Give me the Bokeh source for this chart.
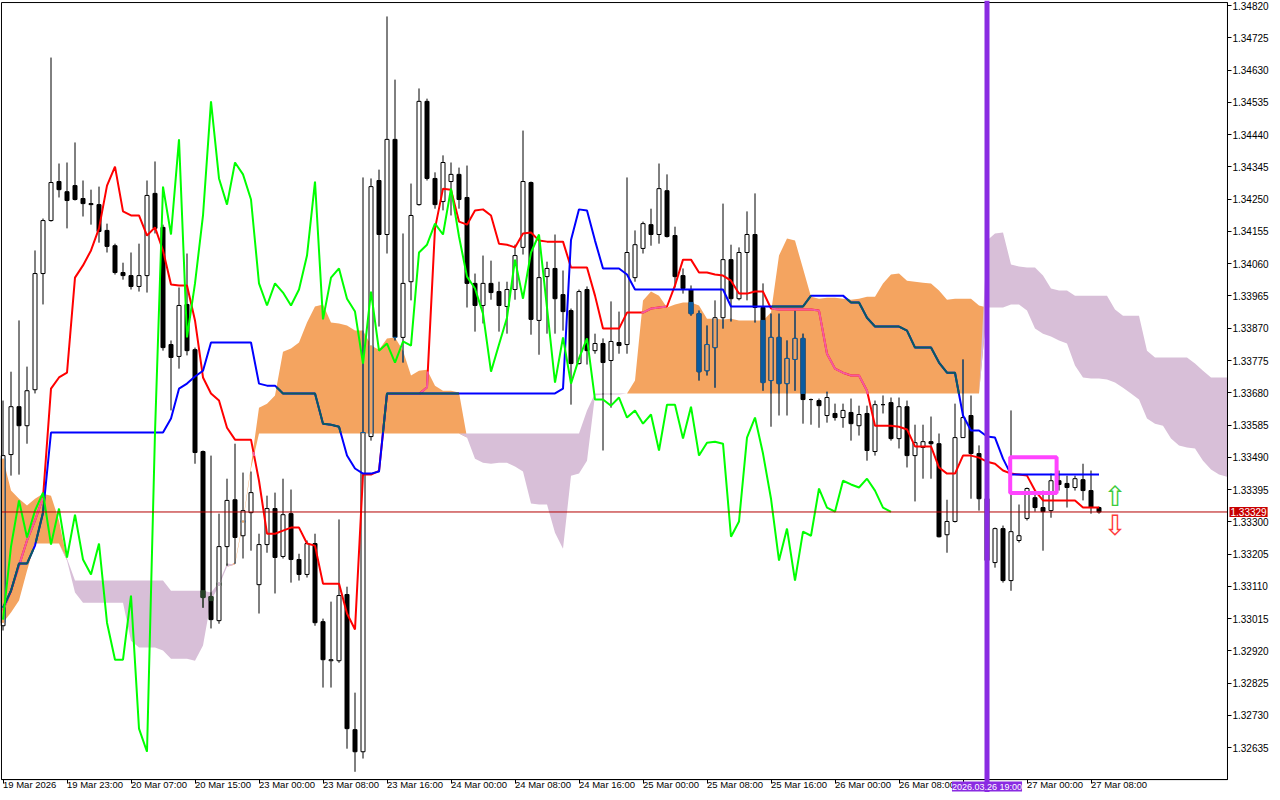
import numpy as np
from bokeh.plotting import figure
from bokeh.models import (Range1d, FixedTicker, PrintfTickFormatter, Span, Label,
                          BoxAnnotation, ColumnDataSource)
from bokeh.embed import file_html
from bokeh.resources import INLINE
from bokeh.core.properties import value

# ---------------- data (EURUSD-like H1, Ichimoku) ----------------
OPEN = [
1.32994, 1.33498, 1.33639, 1.33583, 1.33689, 1.34031, 1.34187, 1.34302, 1.34272, 1.34290,
1.34252, 1.34237, 1.34234, 1.34158, 1.34113, 1.34034, 1.34025, 1.33993, 1.34025, 1.34267,
1.34167, 1.33822, 1.33787, 1.33940, 1.33807, 1.33507, 1.33080, 1.33009, 1.33227, 1.33365,
1.33259, 1.33327, 1.33115, 1.33233, 1.33339, 1.33198, 1.33324, 1.33189, 1.33145, 1.33236,
1.33006, 1.32891, 1.32891, 1.33086, 1.32688, 1.32623, 1.33551, 1.34305, 1.34146, 1.34426,
1.33843, 1.34007, 1.34234, 1.34538, 1.34311, 1.34243, 1.34302, 1.34323, 1.34255, 1.34002,
1.33937, 1.34002, 1.33978, 1.33934, 1.33984, 1.34108, 1.34299, 1.33893, 1.34022, 1.34046,
1.33969, 1.33922, 1.33766, 1.33984, 1.33804, 1.33825, 1.33775, 1.33828, 1.33822, 1.34019,
1.34105, 1.34175, 1.34146, 1.34275, 1.34143, 1.34025, 1.33984, 1.33913, 1.33745, 1.33813,
1.33901, 1.34072, 1.33957, 1.34093, 1.34146, 1.33931, 1.33716, 1.33843, 1.33707, 1.33778,
1.33840, 1.33660, 1.33657, 1.33613, 1.33619, 1.33607, 1.33622, 1.33583, 1.33619, 1.33507,
1.33645, 1.33651, 1.33545, 1.33639, 1.33495, 1.33519, 1.33536, 1.33530, 1.33262, 1.33301,
1.33548, 1.33613, 1.33501, 1.33368, 1.33180, 1.33280, 1.33127, 1.33245, 1.33310, 1.33371,
1.33342, 1.33333, 1.33421, 1.33413, 1.33401, 1.33424, 1.33392, 1.33342]
HIGH = [
1.33657, 1.33742, 1.33893, 1.33757, 1.34099, 1.34193, 1.34667, 1.34355, 1.34358, 1.34417,
1.34305, 1.34278, 1.34287, 1.34178, 1.34119, 1.34063, 1.34093, 1.34119, 1.34305, 1.34361,
1.34175, 1.33834, 1.33990, 1.34090, 1.33813, 1.33510, 1.33495, 1.33324, 1.33427, 1.33530,
1.33445, 1.33448, 1.33265, 1.33377, 1.33386, 1.33427, 1.33395, 1.33206, 1.33245, 1.33265,
1.33015, 1.33065, 1.33307, 1.33109, 1.32797, 1.34314, 1.34311, 1.34337, 1.34788, 1.34602,
1.34149, 1.34296, 1.34576, 1.34546, 1.34329, 1.34379, 1.34358, 1.34343, 1.34349, 1.34031,
1.34084, 1.34069, 1.34007, 1.34007, 1.34116, 1.34452, 1.34302, 1.34143, 1.34066, 1.34146,
1.34040, 1.33928, 1.33984, 1.33993, 1.33854, 1.33840, 1.33949, 1.33919, 1.34314, 1.34158,
1.34184, 1.34222, 1.34355, 1.34323, 1.34169, 1.34046, 1.33996, 1.33922, 1.33878, 1.33952,
1.34237, 1.34116, 1.34108, 1.34214, 1.34267, 1.34002, 1.33913, 1.33913, 1.33834, 1.33922,
1.33854, 1.33663, 1.33663, 1.33683, 1.33648, 1.33648, 1.33663, 1.33642, 1.33642, 1.33657,
1.33672, 1.33666, 1.33666, 1.33657, 1.33586, 1.33586, 1.33610, 1.33560, 1.33365, 1.33648,
1.33778, 1.33672, 1.33525, 1.33392, 1.33283, 1.33289, 1.33628, 1.33351, 1.33401, 1.33392,
1.33392, 1.33442, 1.33451, 1.33436, 1.33436, 1.33471, 1.33451, 1.33345]
LOW = [
1.32980, 1.33436, 1.33439, 1.33530, 1.33678, 1.33940, 1.34184, 1.34255, 1.34164, 1.34246,
1.34199, 1.34175, 1.34122, 1.34093, 1.34028, 1.34013, 1.33984, 1.33978, 1.33975, 1.34149,
1.33804, 1.33628, 1.33751, 1.33790, 1.33471, 1.33047, 1.32986, 1.33000, 1.33171, 1.33177,
1.33192, 1.33215, 1.33030, 1.33209, 1.33089, 1.33192, 1.33121, 1.33127, 1.33136, 1.32994,
1.32812, 1.32812, 1.32885, 1.32632, 1.32564, 1.32603, 1.33539, 1.33875, 1.34090, 1.33834,
1.33769, 1.33952, 1.34231, 1.34305, 1.34222, 1.34217, 1.34202, 1.34222, 1.33931, 1.33860,
1.33884, 1.33954, 1.33860, 1.33854, 1.33954, 1.34087, 1.33851, 1.33792, 1.33854, 1.33854,
1.33863, 1.33645, 1.33763, 1.33763, 1.33795, 1.33510, 1.33636, 1.33795, 1.33795, 1.34007,
1.34090, 1.34113, 1.34119, 1.34137, 1.33990, 1.33972, 1.33907, 1.33716, 1.33731, 1.33695,
1.33869, 1.33890, 1.33952, 1.33952, 1.33887, 1.33686, 1.33580, 1.33613, 1.33613, 1.33686,
1.33589, 1.33586, 1.33577, 1.33592, 1.33598, 1.33577, 1.33539, 1.33554, 1.33480, 1.33495,
1.33619, 1.33539, 1.33516, 1.33460, 1.33360, 1.33427, 1.33427, 1.33254, 1.33209, 1.33298,
1.33548, 1.33368, 1.33333, 1.33156, 1.33165, 1.33121, 1.33097, 1.33239, 1.33304, 1.33330,
1.33215, 1.33312, 1.33392, 1.33342, 1.33392, 1.33363, 1.33324, 1.33324]
CLOSE = [
1.33495, 1.33639, 1.33583, 1.33686, 1.34031, 1.34187, 1.34299, 1.34278, 1.34246, 1.34249,
1.34237, 1.34234, 1.34155, 1.34111, 1.34034, 1.34025, 1.33993, 1.34025, 1.34261, 1.34164,
1.33813, 1.33784, 1.33937, 1.33804, 1.33504, 1.33077, 1.33012, 1.33227, 1.33363, 1.33254,
1.33333, 1.33386, 1.33233, 1.33339, 1.33195, 1.33321, 1.33189, 1.33145, 1.33236, 1.33003,
1.32894, 1.32894, 1.33083, 1.32691, 1.32623, 1.33563, 1.34287, 1.34146, 1.34426, 1.33843,
1.34002, 1.34202, 1.34538, 1.34311, 1.34234, 1.34358, 1.34323, 1.34249, 1.34002, 1.33937,
1.34002, 1.33975, 1.33937, 1.33984, 1.34084, 1.34302, 1.33896, 1.34019, 1.34046, 1.33957,
1.33919, 1.33766, 1.33978, 1.33804, 1.33825, 1.33769, 1.33831, 1.33819, 1.34093, 1.34116,
1.34178, 1.34146, 1.34281, 1.34140, 1.34022, 1.33987, 1.33913, 1.33742, 1.33822, 1.33901,
1.34072, 1.33957, 1.34093, 1.34146, 1.33931, 1.33710, 1.33843, 1.33707, 1.33781, 1.33840,
1.33660, 1.33660, 1.33642, 1.33666, 1.33607, 1.33628, 1.33589, 1.33616, 1.33510, 1.33645,
1.33645, 1.33545, 1.33639, 1.33495, 1.33533, 1.33536, 1.33530, 1.33256, 1.33301, 1.33548,
1.33607, 1.33501, 1.33368, 1.33186, 1.33280, 1.33127, 1.33271, 1.33259, 1.33398, 1.33342,
1.33330, 1.33421, 1.33410, 1.33401, 1.33427, 1.33392, 1.33342, 1.33329]

TENKAN = [
1.33039, 1.33097, 1.33171, 1.33245, 1.33304, 1.33371, 1.33692, 1.33725, 1.33739, 1.34019,
1.34055, 1.34099, 1.34164, 1.34290, 1.34346, 1.34214, 1.34202, 1.34202, 1.34143, 1.34167,
1.34099, 1.33999, 1.33996, 1.33996, 1.33893, 1.33725, 1.33678, 1.33657, 1.33577, 1.33542,
1.33542, 1.33542, 1.33421, 1.33265, 1.33265, 1.33274, 1.33283, 1.33283, 1.33236, 1.33230,
1.33118, 1.33118, 1.33118, 1.33030, 1.32983, 1.33439, 1.33439, 1.33450, 1.33676, 1.33676,
1.33676, 1.33676, 1.33676, 1.33696, 1.34164, 1.34281, 1.34278, 1.34184, 1.34175, 1.34217,
1.34220, 1.34202, 1.34119, 1.34116, 1.34108, 1.34149, 1.34152, 1.34128, 1.34125, 1.34125,
1.34125, 1.34049, 1.34049, 1.34049, 1.33966, 1.33869, 1.33869, 1.33869, 1.33916, 1.33916,
1.33916, 1.33928, 1.33931, 1.33934, 1.33996, 1.34072, 1.34072, 1.34034, 1.34034, 1.34028,
1.34025, 1.34010, 1.33972, 1.33972, 1.33978, 1.33978, 1.33928, 1.33925, 1.33925, 1.33925,
1.33925, 1.33925, 1.33922, 1.33795, 1.33751, 1.33739, 1.33731, 1.33731, 1.33686, 1.33583,
1.33583, 1.33583, 1.33580, 1.33572, 1.33522, 1.33522, 1.33522, 1.33460, 1.33442, 1.33442,
1.33495, 1.33495, 1.33489, 1.33477, 1.33471, 1.33451, 1.33442, 1.33439, 1.33436, 1.33392,
1.33363, 1.33363, 1.33363, 1.33363, 1.33363, 1.33342, 1.33342, 1.33342]
KIJUN = [
1.33047, 1.33097, 1.33177, 1.33177, 1.33230, 1.33327, 1.33563, 1.33563, 1.33563, 1.33563,
1.33563, 1.33563, 1.33563, 1.33563, 1.33563, 1.33563, 1.33563, 1.33563, 1.33563, 1.33563,
1.33563, 1.33604, 1.33692, 1.33707, 1.33728, 1.33745, 1.33828, 1.33828, 1.33828, 1.33828,
1.33828, 1.33828, 1.33707, 1.33701, 1.33701, 1.33678, 1.33678, 1.33678, 1.33678, 1.33678,
1.33589, 1.33586, 1.33580, 1.33495, 1.33457, 1.33442, 1.33442, 1.33448, 1.33678, 1.33678,
1.33678, 1.33678, 1.33678, 1.33678, 1.33678, 1.33678, 1.33678, 1.33678, 1.33678, 1.33678,
1.33678, 1.33678, 1.33678, 1.33678, 1.33678, 1.33678, 1.33678, 1.33678, 1.33678, 1.33678,
1.33692, 1.34130, 1.34220, 1.34217, 1.34128, 1.34046, 1.34046, 1.34046, 1.34028, 1.33984,
1.33984, 1.33984, 1.33984, 1.33984, 1.33984, 1.33984, 1.33984, 1.33984, 1.33984, 1.33984,
1.33984, 1.33934, 1.33934, 1.33934, 1.33934, 1.33934, 1.33934, 1.33934, 1.33934, 1.33934,
1.33934, 1.33966, 1.33966, 1.33966, 1.33966, 1.33966, 1.33946, 1.33946, 1.33901, 1.33875,
1.33875, 1.33875, 1.33875, 1.33863, 1.33813, 1.33813, 1.33813, 1.33769, 1.33739, 1.33739,
1.33613, 1.33569, 1.33569, 1.33551, 1.33548, 1.33486, 1.33439, 1.33439, 1.33439, 1.33439,
1.33439, 1.33439, 1.33439, 1.33439, 1.33439, 1.33439, 1.33439, 1.33439]
SPAN_A = [
1.33486, 1.33392, 1.33368, 1.33348, 1.33368, 1.33383, 1.33377, 1.33304, 1.33186, 1.33092,
1.33062, 1.33062, 1.33062, 1.33062, 1.33062, 1.33062, 1.32950, 1.32930, 1.32930, 1.32930,
1.32921, 1.32897, 1.32897, 1.32897, 1.32891, 1.32936, 1.33068, 1.33112, 1.33168, 1.33180,
1.33304, 1.33466, 1.33636, 1.33648, 1.33672, 1.33801, 1.33810, 1.33828, 1.33887, 1.33934,
1.33940, 1.33887, 1.33884, 1.33878, 1.33863, 1.33863, 1.33819, 1.33807, 1.33840, 1.33843,
1.33804, 1.33731, 1.33745, 1.33748, 1.33701, 1.33686, 1.33686, 1.33681, 1.33548, 1.33486,
1.33474, 1.33471, 1.33474, 1.33474, 1.33463, 1.33448, 1.33354, 1.33351, 1.33351, 1.33268,
1.33221, 1.33436, 1.33442, 1.33480, 1.33672, 1.33675, 1.33675, 1.33675, 1.33678, 1.33716,
1.33952, 1.33978, 1.33966, 1.33931, 1.33940, 1.33946, 1.33946, 1.33937, 1.33898, 1.33898,
1.33896, 1.33898, 1.33893, 1.33893, 1.33893, 1.33893, 1.33916, 1.34084, 1.34134, 1.34128,
1.34046, 1.33963, 1.33957, 1.33960, 1.33960, 1.33957, 1.33954, 1.33957, 1.33963, 1.33963,
1.34002, 1.34028, 1.34031, 1.34010, 1.34007, 1.34004, 1.34002, 1.33981, 1.33954, 1.33957,
1.33957, 1.33957, 1.33937, 1.33931, 1.33931, 1.33931, 1.33940, 1.33940, 1.33922, 1.33869,
1.33854, 1.33846, 1.33834, 1.33825, 1.33760, 1.33725, 1.33722, 1.33722, 1.33719, 1.33710,
1.33695, 1.33678, 1.33660, 1.33604, 1.33589, 1.33583, 1.33545, 1.33525, 1.33519, 1.33516,
1.33480, 1.33454, 1.33439, 1.33433]
SPAN_B = [
1.33003, 1.33033, 1.33068, 1.33156, 1.33236, 1.33236, 1.33236, 1.33236, 1.33192, 1.33127,
1.33127, 1.33127, 1.33127, 1.33127, 1.33127, 1.33127, 1.33127, 1.33127, 1.33127, 1.33127,
1.33127, 1.33097, 1.33097, 1.33097, 1.33097, 1.33097, 1.33092, 1.33121, 1.33177, 1.33174,
1.33298, 1.33457, 1.33560, 1.33560, 1.33560, 1.33560, 1.33560, 1.33560, 1.33560, 1.33560,
1.33560, 1.33560, 1.33560, 1.33560, 1.33560, 1.33560, 1.33560, 1.33560, 1.33560, 1.33560,
1.33560, 1.33560, 1.33560, 1.33560, 1.33560, 1.33560, 1.33560, 1.33560, 1.33560, 1.33560,
1.33560, 1.33560, 1.33560, 1.33560, 1.33560, 1.33560, 1.33560, 1.33560, 1.33560, 1.33560,
1.33560, 1.33560, 1.33560, 1.33628, 1.33678, 1.33678, 1.33678, 1.33678, 1.33678, 1.33678,
1.33678, 1.33678, 1.33678, 1.33678, 1.33678, 1.33678, 1.33678, 1.33678, 1.33678, 1.33678,
1.33678, 1.33678, 1.33678, 1.33678, 1.33678, 1.33678, 1.33678, 1.33678, 1.33678, 1.33678,
1.33678, 1.33678, 1.33678, 1.33678, 1.33678, 1.33678, 1.33678, 1.33678, 1.33678, 1.33678,
1.33678, 1.33678, 1.33678, 1.33678, 1.33678, 1.33678, 1.33678, 1.33678, 1.33678, 1.33678,
1.33678, 1.33678, 1.33678, 1.34128, 1.34149, 1.34152, 1.34058, 1.34052, 1.34049, 1.34049,
1.34025, 1.33987, 1.33981, 1.33981, 1.33966, 1.33966, 1.33966, 1.33966, 1.33966, 1.33925,
1.33907, 1.33907, 1.33907, 1.33804, 1.33784, 1.33784, 1.33784, 1.33784, 1.33784, 1.33766,
1.33745, 1.33725, 1.33725, 1.33725]

CHIKOU_SHIFT = 26
Y_TICKS = [1.34820, 1.34725, 1.34630, 1.34535, 1.34440, 1.34345, 1.34250, 1.34155,
           1.34060, 1.33965, 1.33870, 1.33775, 1.33680, 1.33585, 1.33490, 1.33395,
           1.33300, 1.33205, 1.33110, 1.33015, 1.32920, 1.32825, 1.32730, 1.32635]
X_TICKS = [0, 8, 16, 24, 32, 40, 48, 56, 64, 72, 80, 88, 96, 104, 112, 120, 128, 136]
X_LABELS = ["19 Mar 2026", "19 Mar 23:00", "20 Mar 07:00", "20 Mar 15:00", "23 Mar 00:00",
            "23 Mar 08:00", "23 Mar 16:00", "24 Mar 00:00", "24 Mar 08:00", "24 Mar 16:00",
            "25 Mar 00:00", "25 Mar 08:00", "25 Mar 16:00", "26 Mar 00:00", "26 Mar 08:00",
            "", "27 Mar 00:00", "27 Mar 08:00"]
VLINE_BAR = 123
VLINE_TEXT = "2026.03.26 19:00"
BOX_LEFT, BOX_RIGHT, BOX_TOP, BOX_BOTTOM = 125.9, 131.7, 1.33490, 1.33385
ARROW_X = [139, 139]
ARROW_Y = [1.33374, 1.33288]
ARROW_TEXT = ["\u21e7", "\u21e9"]
ARROW_COLOR = ["#3CCB3C", "#FF3A3A"]

N = len(CLOSE)
for arr in (OPEN, HIGH, LOW, TENKAN, KIJUN):
    assert len(arr) == N, len(arr)
assert len(SPAN_A) == len(SPAN_B) == 154, (len(SPAN_A), len(SPAN_B))

O = np.array(OPEN); H = np.array(HIGH); L = np.array(LOW); C = np.array(CLOSE)
T = np.array(TENKAN); K = np.array(KIJUN)
A = np.array(SPAN_A); B = np.array(SPAN_B)
idx = np.arange(N, dtype=float)
cidx = np.arange(len(A), dtype=float)

ORANGE = "#F4A460"
THISTLE = "#D8BFD8"
INK = {"orange": {"black": "#0B5B9F", "red": "#F45B9F", "blue": "#0B5B60"},
       "thistle": {"black": "#274027", "red": "#D84027", "blue": "#2740D8"}}
PAPER = {"orange": ORANGE, "thistle": THISTLE}

# whole canvas is the frame; the chart box sits inside it, axes pinned to its edges
VIEW_X = (-0.3125, 158.6875)
VIEW_Y = (1.32503, 1.34835)
BOX_X0, BOX_X1 = -0.19, 153.06     # chart box (bar-index units)
BOX_Y0, BOX_Y1 = 1.32541, 1.34829  # chart box (price units)

p = figure(width=1272, height=792, output_backend="svg", toolbar_location=None,
           x_range=Range1d(*VIEW_X), y_range=Range1d(*VIEW_Y),
           y_axis_location="right", min_border=0)
p.grid.visible = False
p.outline_line_color = None
p.background_fill_color = "white"
p.border_fill_color = "white"

# ---------------- cloud ----------------
lo = np.minimum(A, B)
p.varea(x=cidx, y1=lo, y2=A, fill_color=ORANGE)
p.varea(x=cidx, y1=lo, y2=B, fill_color=THISTLE)

# ---------------- candles ----------------
W = 0.25
bull = C >= O
p.segment(x0=idx, y0=L, x1=idx, y1=H, line_color="black", line_width=1)
p.quad(left=idx[bull] - W, right=idx[bull] + W, bottom=O[bull], top=C[bull],
       fill_color="white", line_color="black", line_width=1)
p.quad(left=idx[~bull] - W, right=idx[~bull] + W, bottom=C[~bull], top=O[~bull],
       fill_color="black", line_color="black", line_width=1)

wk = dict(x0=[], y0=[], x1=[], y1=[], c=[])
bq = dict(l=[], r=[], b=[], t=[], c=[])
wq = dict(l=[], r=[], b=[], t=[], c=[])
ed = dict(x0=[], y0=[], x1=[], y1=[], c=[])
for i in range(N):
    a, b = A[i], B[i]
    if a > b:
        key, blo, bhi = "orange", b, a
    elif b > a:
        key, blo, bhi = "thistle", a, b
    else:
        continue
    ink = INK[key]["black"]
    y0, y1 = max(L[i], blo), min(H[i], bhi)
    if y1 > y0:
        wk["x0"].append(i); wk["x1"].append(i); wk["y0"].append(y0); wk["y1"].append(y1); wk["c"].append(ink)
    bot, top = min(O[i], C[i]), max(O[i], C[i])
    b0, b1 = max(bot, blo), min(top, bhi)
    if b1 >= b0:
        if C[i] < O[i]:
            bq["l"].append(i - W); bq["r"].append(i + W); bq["b"].append(b0); bq["t"].append(b1); bq["c"].append(ink)
        else:
            wq["l"].append(i - W); wq["r"].append(i + W); wq["b"].append(b0); wq["t"].append(b1); wq["c"].append(PAPER[key])
            for xx in (i - W, i + W):
                ed["x0"].append(xx); ed["x1"].append(xx); ed["y0"].append(b0); ed["y1"].append(b1); ed["c"].append(ink)
            for yy in (top, bot):
                if blo <= yy <= bhi:
                    ed["x0"].append(i - W); ed["x1"].append(i + W); ed["y0"].append(yy); ed["y1"].append(yy); ed["c"].append(ink)

p.segment(x0="x0", y0="y0", x1="x1", y1="y1", line_color="c", line_width=1, source=ColumnDataSource(wk))
p.quad(left="l", right="r", bottom="b", top="t", fill_color="c", line_color="c", line_width=1, source=ColumnDataSource(bq))
p.quad(left="l", right="r", bottom="b", top="t", fill_color="c", line_color=None, source=ColumnDataSource(wq))
p.segment(x0="x0", y0="y0", x1="x1", y1="y1", line_color="c", line_width=1, source=ColumnDataSource(ed))


def xor_paths(vals, col_or, col_th, nsub=10):
    xs, ys, cs = [], [], []
    rx = ry = rc = None
    for i in range(len(vals) - 1):
        for k in range(nsub):
            t0, t1 = k / nsub, (k + 1) / nsub
            x0, x1 = i + t0, i + t1
            y0 = vals[i] + (vals[i + 1] - vals[i]) * t0
            y1 = vals[i] + (vals[i + 1] - vals[i]) * t1
            xm, ym = 0.5 * (x0 + x1), 0.5 * (y0 + y1)
            a = np.interp(xm, cidx, A); b = np.interp(xm, cidx, B)
            c = None
            if a > b and b <= ym <= a:
                c = col_or
            elif b > a and a <= ym <= b:
                c = col_th
            if c is not None and c == rc:
                rx.append(x1); ry.append(y1)
            else:
                if rc is not None:
                    xs.append(rx); ys.append(ry); cs.append(rc)
                if c is not None:
                    rx, ry, rc = [x0, x1], [y0, y1], c
                else:
                    rx = ry = rc = None
    if rc is not None:
        xs.append(rx); ys.append(ry); cs.append(rc)
    return dict(xs=xs, ys=ys, c=cs)


# ---------------- Tenkan / Kijun ----------------
p.line(idx, T, line_color="#FF0000", line_width=2)
p.multi_line(xs="xs", ys="ys", line_color="c", line_width=2,
             source=ColumnDataSource(xor_paths(T, INK["orange"]["red"], INK["thistle"]["red"])))
p.line(idx, K, line_color="#0000FF", line_width=2)
p.multi_line(xs="xs", ys="ys", line_color="c", line_width=2,
             source=ColumnDataSource(xor_paths(K, INK["orange"]["blue"], INK["thistle"]["blue"])))

# ---------------- Chikou (close shifted back 26 bars) ----------------
p.line(idx[:N - CHIKOU_SHIFT], C[CHIKOU_SHIFT:], line_color="#00FF00", line_width=2)

# ---------------- price line, chart box, signal arrows ----------------
p.segment(x0=[BOX_X0], y0=[C[-1]], x1=[BOX_X1], y1=[C[-1]], line_color="#B40000", line_width=1)
p.quad(left=[BOX_X0], right=[BOX_X1], bottom=[BOX_Y0], top=[BOX_Y1],
       fill_color=None, line_color="black", line_width=1)
p.text(x=ARROW_X, y=ARROW_Y, text=ARROW_TEXT, text_color=ARROW_COLOR,
       text_font=value("DejaVu Sans"), text_font_size="28px",
       text_align="center", text_baseline="middle")

# ---------------- axes pinned to the chart box ----------------
yax = p.yaxis[0]
yax.fixed_location = BOX_X1
yax.bounds = (BOX_Y0, BOX_Y1)
yax.ticker = FixedTicker(ticks=Y_TICKS)
yax.formatter = PrintfTickFormatter(format="%.5f")
yax.major_label_text_font_size = "10px"
xax = p.xaxis[0]
xax.fixed_location = BOX_Y0
xax.bounds = (BOX_X0, BOX_X1)
xax.ticker = FixedTicker(ticks=X_TICKS)
xax.major_label_overrides = {t: lab for t, lab in zip(X_TICKS, X_LABELS)}
xax.major_label_orientation = -0.0001
xax.major_label_text_font_size = "9.5px"
for ax in (xax, yax):
    ax.axis_line_color = "black"
    ax.major_tick_line_color = "black"
    ax.major_tick_out = 4
    ax.major_tick_in = 0
    ax.minor_tick_out = 0
    ax.minor_tick_in = 0
    ax.major_label_standoff = 1
    ax.major_label_text_font = "Liberation Sans"
    ax.major_label_text_color = "black"

# ---------------- annotations over the axes ----------------
p.add_layout(Span(location=VLINE_BAR, dimension="height", line_color="#8A2BE2", line_width=5))
p.add_layout(BoxAnnotation(left=BOX_LEFT, right=BOX_RIGHT, top=BOX_TOP, bottom=BOX_BOTTOM,
                           fill_alpha=0, line_color="#FF44FF", line_alpha=1, line_width=4))
p.add_layout(Label(x=BOX_X1, y=C[-1], x_offset=2, text=f"{C[-1]:.5f}",
                   text_align="left", text_baseline="middle", text_color="white",
                   text_font="Liberation Sans", text_font_size="10px",
                   background_fill_color="#C80000", padding=1, level="overlay"))
p.add_layout(Label(x=VLINE_BAR, y=BOX_Y0, y_offset=-2, text=VLINE_TEXT,
                   text_align="center", text_baseline="top", text_color="white",
                   text_font="Liberation Sans", text_font_size="9px",
                   background_fill_color="#8A2BE2", padding=0, level="overlay"))

open("out.html", "w").write(file_html(p, INLINE))
